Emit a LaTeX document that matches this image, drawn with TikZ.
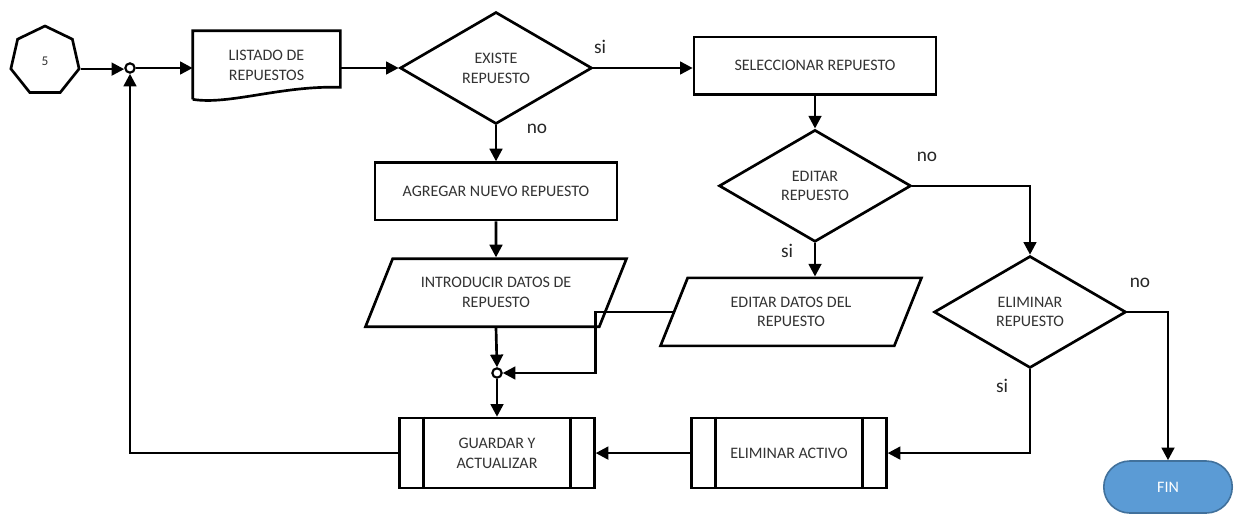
\documentclass[tikz,border=0pt]{standalone}
\usepackage{fontspec}
\setmainfont{Carlito}
\usepackage{tikz}
\usetikzlibrary{arrows.meta,positioning,shapes.geometric,shapes.misc}
\definecolor{finfill}{HTML}{5B9BD5}
\definecolor{finline}{HTML}{41719C}
\definecolor{boxtext}{HTML}{333333}
\tikzset{
  base/.style={draw=black,line width=2pt,fill=white,align=center,inner sep=2pt,text=boxtext,font=\fontsize{12}{14.8}\selectfont},
  procbox/.style={base,rectangle,minimum width=181.5pt,minimum height=43pt},
  subproc/.style={base,rectangle,minimum width=146pt,minimum height=52.5pt},
  docbox/.style={base,rectangle,draw=none,fill=none,minimum width=108.75pt,minimum height=49.5pt},
  iobox/.style={base,trapezium,trapezium left angle=52.6,trapezium right angle=127.4,trapezium stretches body=true,minimum width=195.75pt,minimum height=51pt},
  decision/.style={base,diamond,aspect=1.7,inner sep=0pt,minimum width=144pt,minimum height=84pt},
  offpage/.style={base,regular polygon,regular polygon sides=7,minimum size=52.5pt,inner sep=0pt,font=\fontsize{10}{12}\selectfont},
  joint/.style={circle,draw=black,line width=1.6pt,fill=white,inner sep=0pt,minimum size=7pt},
  terminal/.style={rounded rectangle,draw=finline,line width=1.2pt,fill=finfill,text=white,minimum width=103pt,minimum height=39pt,font=\fontsize{12}{14}\selectfont},
  answer/.style={inner sep=0pt,text=black!85,font=\fontsize{14.5}{16}\selectfont},
  line/.style={line width=2pt,draw=black},
  arrow/.style={line,-{Triangle[length=9.5pt,width=9.5pt]}}
}

\begin{document}
\begin{tikzpicture}[x=0.75pt,y=-0.75pt,node distance=28.5pt]
  \useasboundingbox (0,0) rectangle (1244,514);

  % top row
  \node[offpage] (p5) at (45,61) {5};
  \node[joint] (j1) at (130,68) {};
  \node[docbox] (lst) at (266.5,65) {LISTADO DE\\REPUESTOS};
  \node[decision] (exi) at (496,68) {EXISTE\\REPUESTO};
  \node[procbox] (sel) at (815,65.5) {SELECCIONAR REPUESTO};

  % "no" branch
  \node[procbox,below=27pt of exi] (agr) {AGREGAR NUEVO REPUESTO};
  \node[iobox,below=27pt of agr] (intro) {INTRODUCIR DATOS DE\\REPUESTO};
  \node[joint] (j2) at (497,373) {};
  \node[subproc,below=of j2] (grd) {GUARDAR Y\\ACTUALIZAR};

  % "si" branch
  \node[decision,below=24.75pt of sel] (edr) {EDITAR\\REPUESTO};
  \node[iobox,below=25pt of edr,xshift=-18pt] (edit) {EDITAR DATOS DEL\\REPUESTO};
  \node[subproc,right=71pt of grd] (eac) {ELIMINAR ACTIVO};
  \node[decision] (elr) at (1030,312) {ELIMINAR\\REPUESTO};
  \node[terminal] (fin) at (1168,487) {FIN};

  % document outline with wavy bottom
  \draw[line] (lst.south west) -- (lst.north west) -- (lst.north east) -- ([yshift=9pt]lst.south east)
    .. controls +(-44pt,1.5pt) and +(27pt,-4.5pt) .. (lst.south west);

  % side bars of the predefined processes
  \draw[line] ([xshift=18.75pt]grd.north west) -- ([xshift=18.75pt]grd.south west);
  \draw[line] ([xshift=-18.75pt]grd.north east) -- ([xshift=-18.75pt]grd.south east);
  \draw[line] ([xshift=18.75pt]eac.north west) -- ([xshift=18.75pt]eac.south west);
  \draw[line] ([xshift=-18.75pt]eac.north east) -- ([xshift=-18.75pt]eac.south east);

  % answers
  \node[answer] (si1) at (600,47) {si};
  \node[answer] (no1) at (537,129) {no};
  \node[answer] (no2) at (927,157) {no};
  \node[answer] (si2) at (787,251) {si};
  \node[answer] (no3) at (1140,283) {no};
  \node[answer] (si3) at (1002,386) {si};

  \draw[arrow] (p5.corner 6) -- (p5.corner 6 -| j1.west);
  \draw[arrow] (j1.east) -- (j1.east -| lst.west);
  \draw[arrow] (exi.west -| lst.east) -- (exi.west);
  \draw[arrow] (exi.east) -- (exi.east -| sel.west);
  \draw[arrow] (exi) -- (agr);
  \draw[arrow] (agr) -- (intro);
  \draw[arrow] (intro.south) -- (j2.north);
  \draw[arrow] (edit.west) -- (edit.west -| grd.east) |- (j2.east);
  \draw[arrow] (j2) -- (grd);
  \draw[arrow] (grd.west) -| (j1.south);
  \draw[arrow] (sel) -- (edr);
  \draw[arrow] (edr.south) -- (edr.south |- edit.north);
  \draw[arrow] (edr.east) -| (elr.north);
  \draw[arrow] (elr.south) |- (eac.east);
  \draw[arrow] (eac.west) -- (grd.east);
  \draw[arrow] (elr.east) -| (fin.north);
\end{tikzpicture}
\end{document}
